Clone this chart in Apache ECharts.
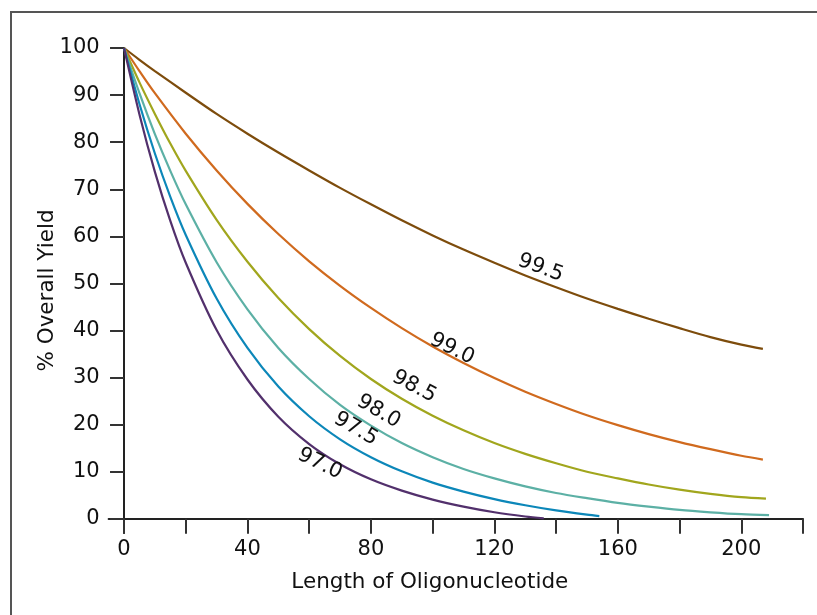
<!DOCTYPE html>
<html>
<head>
<meta charset="utf-8">
<title>Overall yield vs oligonucleotide length</title>
<script src="https://cdn.jsdelivr.net/npm/echarts@6.0.0/dist/echarts.min.js"></script>
<style>
  html, body { margin: 0; padding: 0; background: #ffffff; }
  #chart { width: 817px; height: 615px; }
</style>
</head>
<body>
<div id="chart"></div>
<script>
// Coupling efficiency (%) of each curve and its line colour
const efficiencies = ['99.5', '99.0', '98.5', '98.0', '97.5', '97.0'];
const colors = ['#7d4c0c', '#d06a1e', '#a1a61d', '#5cb0a5', '#0c87b9', '#52306c'];

// Oligonucleotide length (x) and overall yield in % (y), one pair of arrays per curve
const len995 = [0, 5, 10, 20, 30, 40, 50, 60, 70, 80, 90, 100, 110, 120, 130, 140, 150, 160, 170, 180, 190, 200, 207];
const yield995 = [100, 97.5, 95.1, 90.5, 86.0, 81.8, 77.8, 74.0, 70.3, 66.8, 63.4, 60.2, 57.2, 54.4, 51.7, 49.2, 46.8, 44.6, 42.5, 40.5, 38.6, 37.0, 36.1];

const len990 = [0, 5, 10, 20, 30, 40, 50, 60, 70, 80, 90, 100, 110, 120, 130, 140, 150, 160, 170, 180, 190, 200, 207];
const yield990 = [100, 95.1, 90.4, 81.8, 74.0, 66.9, 60.5, 54.7, 49.5, 44.8, 40.5, 36.6, 33.1, 29.9, 27.0, 24.4, 22.0, 19.9, 18.0, 16.3, 14.8, 13.4, 12.6];

const len985 = [0, 5, 10, 15, 20, 30, 40, 50, 60, 70, 80, 90, 100, 110, 120, 130, 140, 150, 160, 170, 180, 190, 200, 208];
const yield985 = [100, 92.7, 86.0, 79.7, 73.9, 63.5, 54.6, 46.9, 40.3, 34.6, 29.7, 25.5, 21.9, 18.8, 16.1, 13.8, 11.8, 10.0, 8.6, 7.3, 6.2, 5.3, 4.6, 4.3];

const len980 = [0, 5, 10, 15, 20, 30, 40, 50, 60, 70, 80, 90, 100, 110, 120, 130, 140, 150, 160, 170, 180, 190, 200, 209];
const yield980 = [100, 90.4, 81.7, 73.9, 66.8, 54.5, 44.5, 36.3, 29.7, 24.2, 19.8, 16.1, 13.1, 10.6, 8.6, 6.9, 5.5, 4.4, 3.4, 2.6, 1.9, 1.4, 1.0, 0.8];

const len975 = [0, 5, 10, 15, 20, 30, 40, 50, 60, 70, 80, 90, 100, 110, 120, 130, 140, 150, 154];
const yield975 = [100, 88.1, 77.6, 68.4, 60.3, 46.8, 36.3, 28.1, 21.8, 16.9, 13.1, 10.1, 7.7, 5.8, 4.2, 2.9, 1.8, 0.9, 0.6];

const len970 = [0, 5, 10, 15, 20, 30, 40, 50, 60, 70, 80, 90, 100, 110, 120, 130, 136];
const yield970 = [100, 85.9, 73.7, 63.3, 54.4, 40.1, 29.6, 21.7, 15.9, 11.6, 8.4, 6.0, 4.1, 2.6, 1.4, 0.5, 0.1];

// Where each curve's name sits along it: [length, yield, angle in degrees]
const labelSpots = [
  [135, 53.3, -20],
  [106.3, 36.1, -26],
  [94, 28.1, -28],
  [82.5, 22.8, -30],
  [75.1, 19.1, -30],
  [63.5, 11.7, -26]
];

// Axis ticks and labels
const xTicks = [0, 20, 40, 60, 80, 100, 120, 140, 160, 180, 200, 220];
const xLabels = [0, 40, 80, 120, 160, 200];
const yTicks = [0, 10, 20, 30, 40, 50, 60, 70, 80, 90, 100];

const lengthSets = [len995, len990, len985, len980, len975, len970];
const yieldSets = [yield995, yield990, yield985, yield980, yield975, yield970];

const FONT = '"DejaVu Sans", Verdana, sans-serif';
const INK = '#111111';
const AXIS = '#222222';

const series = efficiencies.map((name, i) => ({
  name: name,
  type: 'line',
  data: lengthSets[i].map((x, k) => [x, yieldSets[i][k]]),
  smooth: 0.3,
  showSymbol: false,
  symbol: 'none',
  lineStyle: { color: colors[i], width: 2.2 },
  itemStyle: { color: colors[i] },
  silent: true,
  z: 3,
  markPoint: {
    symbol: 'circle',
    symbolSize: 1,
    itemStyle: { color: 'rgba(0,0,0,0)' },
    silent: true,
    label: {
      show: true,
      position: 'inside',
      formatter: name,
      color: INK,
      fontFamily: FONT,
      fontSize: 21,
      rotate: labelSpots[i][2]
    },
    data: [{ coord: [labelSpots[i][0], labelSpots[i][1]] }]
  }
}));

const chart = echarts.init(document.getElementById('chart'), null, { renderer: 'canvas' });
chart.setOption({
  animation: false,
  backgroundColor: '#ffffff',
  grid: { left: 108.6, right: 14, top: 48, bottom: 82, containLabel: false },
  xAxis: {
    type: 'value',
    min: -5,
    max: 220,
    name: 'Length of Oligonucleotide',
    nameLocation: 'middle',
    nameGap: 38,
    nameMoveOverlap: false,
    nameTextStyle: { color: INK, fontFamily: FONT, fontSize: 21.5, padding: [0, 52, 0, 0] },
    axisLine: { show: true, onZero: true, lineStyle: { color: AXIS, width: 2 } },
    axisTick: { show: true, inside: false, length: 15, customValues: xTicks, lineStyle: { color: '#333333', width: 2 } },
    axisLabel: { show: true, customValues: xLabels, margin: 6, color: INK, fontFamily: FONT, fontSize: 21 },
    splitLine: { show: false }
  },
  yAxis: {
    type: 'value',
    min: -3,
    max: 100,
    name: '% Overall Yield',
    nameLocation: 'middle',
    nameGap: 50,
    nameRotate: 90,
    nameMoveOverlap: false,
    nameTextStyle: { color: INK, fontFamily: FONT, fontSize: 21.5 },
    axisLine: { show: true, onZero: true, lineStyle: { color: AXIS, width: 2 } },
    axisTick: { show: true, inside: false, length: 14, customValues: yTicks, lineStyle: { color: '#333333', width: 2 } },
    axisLabel: { show: true, customValues: yTicks, margin: 9, color: INK, fontFamily: FONT, fontSize: 21 },
    splitLine: { show: false }
  },
  graphic: [{
    type: 'rect',
    shape: { x: 11, y: 12, width: 830, height: 640 },
    style: { fill: 'none', stroke: '#555555', lineWidth: 2 },
    silent: true,
    z: 0
  }],
  series: series
});
</script>
</body>
</html>
